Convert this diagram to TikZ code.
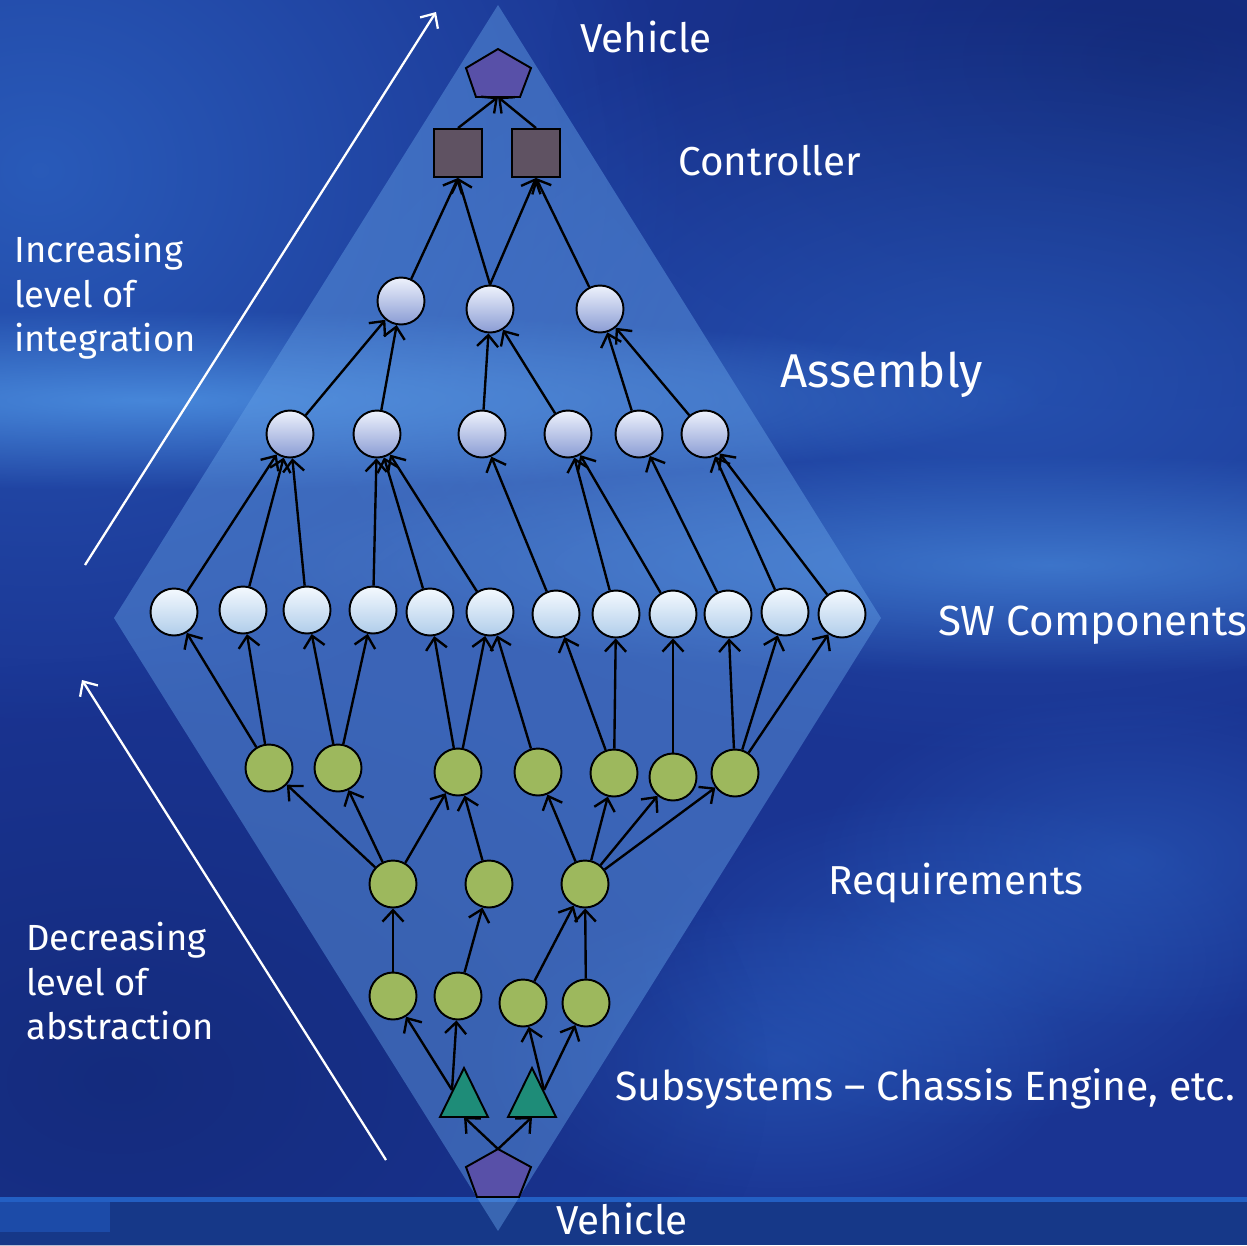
\documentclass[tikz,border=0pt]{standalone}
\usepackage{fontspec}
\setmainfont{Fira Sans}
\usetikzlibrary{arrows.meta,fadings}
\definecolor{bgbase}{RGB}{26,52,146}
\definecolor{bglight}{RGB}{80,150,230}
\definecolor{bgmid}{RGB}{45,100,195}
\definecolor{bgdark}{RGB}{15,35,105}
\definecolor{bgbottom}{RGB}{22,56,136}
\definecolor{bgline}{RGB}{35,95,195}
\definecolor{bgrect}{RGB}{28,75,168}
\definecolor{diafill}{RGB}{100,160,230}
\definecolor{asmtop}{RGB}{238,242,252}
\definecolor{asmbot}{RGB}{138,156,212}
\definecolor{swtop}{RGB}{244,249,254}
\definecolor{swbot}{RGB}{176,205,234}
\definecolor{reqgreen}{RGB}{157,184,93}
\definecolor{ctlcol}{RGB}{95,82,98}
\definecolor{pentcol}{RGB}{88,80,168}
\definecolor{tricol}{RGB}{30,140,120}
\tikzfading[name=softglow, inner color=transparent!0, outer color=transparent!100]
\begin{document}
\begin{tikzpicture}[x=0.02cm,y=-0.02cm,
  conn/.style={line width=1.35pt,-{Straight Barb[length=6.5pt,width=12pt]}},
  warrow/.style={white,line width=1.3pt,-{Straight Barb[length=6.5pt,width=12pt]}},
  cnode/.style={circle,draw=black,line width=1.1pt,minimum size=0.94cm,inner sep=0pt},
  asm/.style={cnode,top color=asmtop,bottom color=asmbot},
  swc/.style={cnode,top color=swtop,bottom color=swbot},
  req/.style={cnode,fill=reqgreen},
  ctl/.style={rectangle,draw=black,line width=1.1pt,fill=ctlcol,minimum size=0.96cm,inner sep=0pt},
  shp/.style={draw=black,line width=1.1pt},
  glow/.style={path fading=softglow},
  lbl/.style={text=white,anchor=base west,inner sep=0pt,font=\fontsize{23}{25}\selectfont},
  lside/.style={text=white,anchor=north west,inner sep=0pt,align=left,font=\fontsize{20.7}{25.2}\selectfont}]
\useasboundingbox (0,0) rectangle (1247,1245);
% background
\fill[bgbase] (0,0) rectangle (1247,1245);
\fill[bgmid,glow,opacity=0.8] (40,170) ellipse (650 and 560);
\fill[bgdark,glow,opacity=0.6] (1150,60) ellipse (600 and 350);
\fill[bgmid,glow,opacity=0.6] (1000,380) ellipse (700 and 380);
\fill[bglight,glow,opacity=0.8] (150,400) ellipse (900 and 90);
\fill[bglight,glow,opacity=0.6] (1050,565) ellipse (800 and 110);
\fill[bgmid,glow,opacity=0.5] (780,1060) ellipse (300 and 160);
\fill[bgmid,glow,opacity=0.5] (950,960) ellipse (320 and 170);
\fill[bgmid,glow,opacity=0.5] (1130,860) ellipse (320 and 170);
\fill[bgdark,glow,opacity=0.5] (120,1080) ellipse (650 and 420);
\fill[bgbottom] (0,1201) rectangle (1247,1245);
\fill[bgline] (0,1197) rectangle (1247,1202);
\fill[bgrect] (0,1202) rectangle (110,1232);
% diamond
\fill[diafill,opacity=0.45] (498,5) -- (881,618) -- (498,1231) -- (114,618) -- cycle;
% white arrows
\coordinate (wa1) at (85,565); \coordinate (wa2) at (436,12);
\coordinate (wb1) at (386,1160); \coordinate (wb2) at (82,680);
\draw[warrow] (wa1) -- (wa2);
\draw[warrow] (wb1) -- (wb2);
% top pentagon
\filldraw[shp,fill=pentcol] (498,49) -- (531,68) -- (520,97) -- (476,97) -- (466,68) -- cycle;
\coordinate (tpb) at (498,97);
% bottom pentagon
\filldraw[shp,fill=pentcol] (498,1149) -- (531,1167) -- (519,1197) -- (477,1197) -- (466,1167) -- cycle;
\coordinate (bpt) at (498,1149);
% triangles
\filldraw[shp,fill=tricol] (464,1068) -- (488,1117) -- (440,1117) -- cycle;
\filldraw[shp,fill=tricol] (532,1068) -- (556,1117) -- (508,1117) -- cycle;
\coordinate (t1l) at (452,1090); \coordinate (t1b) at (464,1117);
\coordinate (t2r) at (544,1090); \coordinate (t2b) at (532,1117);
% controllers
\node[ctl] (c1) at (458,153) {};
\node[ctl] (c2) at (536,153) {};
% assembly
\node[asm] (a1) at (401,301) {};
\node[asm] (a2) at (490,309) {};
\node[asm] (a3) at (600,309) {};
\node[asm] (b1) at (290,434) {};
\node[asm] (b2) at (377,434) {};
\node[asm] (b3) at (482,434) {};
\node[asm] (b4) at (568,434) {};
\node[asm] (b5) at (639,434) {};
\node[asm] (b6) at (705,434) {};
% sw components
\node[swc] (s1) at (174,612) {};
\node[swc] (s2) at (243,610) {};
\node[swc] (s3) at (307,610) {};
\node[swc] (s4) at (373,610) {};
\node[swc] (s5) at (430,612) {};
\node[swc] (s6) at (490,612) {};
\node[swc] (s7) at (556,614) {};
\node[swc] (s8) at (616,614) {};
\node[swc] (s9) at (673,614) {};
\node[swc] (s10) at (728,614) {};
\node[swc] (s11) at (785,612) {};
\node[swc] (s12) at (842,614) {};
% requirements
\node[req] (r1) at (269,768) {};
\node[req] (r2) at (338,768) {};
\node[req] (r3) at (458,772) {};
\node[req] (r4) at (538,772) {};
\node[req] (r5) at (614,773) {};
\node[req] (r6) at (673,777) {};
\node[req] (r7) at (735,773) {};
\node[req] (q1) at (393,884) {};
\node[req] (q2) at (489,884) {};
\node[req] (q3) at (585,884) {};
\node[req] (p1) at (393,996) {};
\node[req] (p2) at (458,996) {};
\node[req] (p3) at (523,1003) {};
\node[req] (p4) at (586,1003) {};
% connectors
\draw[conn] (c1.north) -- (tpb);
\draw[conn] (c2.north) -- (tpb);
\draw[conn] (a1) -- (c1.south);
\draw[conn] (a2.north) -- (c1.south);
\draw[conn] (a2.north) -- (c2.south);
\draw[conn] (a3) -- (c2.south);
\draw[conn] (b1) -- (a1);
\draw[conn] (b2) -- (a1);
\draw[conn] (b3) -- (a2);
\draw[conn] (b4) -- (a2);
\draw[conn] (b5) -- (a3);
\draw[conn] (b6) -- (a3);
\draw[conn] (s1) -- (b1);
\draw[conn] (s2) -- (b1);
\draw[conn] (s3) -- (b1);
\draw[conn] (s4) -- (b2);
\draw[conn] (s5) -- (b2);
\draw[conn] (s6) -- (b2);
\draw[conn] (s7) -- (b3);
\draw[conn] (s8) -- (b4);
\draw[conn] (s9) -- (b4);
\draw[conn] (s10) -- (b5);
\draw[conn] (s11) -- (b6);
\draw[conn] (s12) -- (b6);
\draw[conn] (r1) -- (s1);
\draw[conn] (r1) -- (s2);
\draw[conn] (r2) -- (s3);
\draw[conn] (r2) -- (s4);
\draw[conn] (r3) -- (s5);
\draw[conn] (r3) -- (s6);
\draw[conn] (r4) -- (s6);
\draw[conn] (r5) -- (s7);
\draw[conn] (r5) -- (s8);
\draw[conn] (r6) -- (s9);
\draw[conn] (r7) -- (s10);
\draw[conn] (r7) -- (s11);
\draw[conn] (r7) -- (s12);
\draw[conn] (q1) -- (r1);
\draw[conn] (q1) -- (r2);
\draw[conn] (q1) -- (r3);
\draw[conn] (q2) -- (r3);
\draw[conn] (q3) -- (r4);
\draw[conn] (q3) -- (r5);
\draw[conn] (q3) -- (r6);
\draw[conn] (q3) -- (r7);
\draw[conn] (p1) -- (q1);
\draw[conn] (p2) -- (q2);
\draw[conn] (p3) -- (q3);
\draw[conn] (p4) -- (q3);
\draw[conn] (t1l) -- (p1);
\draw[conn] (t1l) -- (p2);
\draw[conn] (t2r) -- (p3);
\draw[conn] (t2r) -- (p4);
\draw[conn] (bpt) -- (t1b);
\draw[conn] (bpt) -- (t2b);
% labels
\node[lbl] (lveh) at (580,52) {Vehicle};
\node[lbl] (lctl) at (678,175) {Controller};
\node[lbl,font=\fontsize{27}{29}\selectfont] (lasm) at (780,387) {Assembly};
\node[lbl,font=\fontsize{24}{26}\selectfont] (lsw) at (938,635) {SW Components};
\node[lbl] (lreq) at (828,894) {Requirements};
\node[lbl,font=\fontsize{23.3}{25}\selectfont] (lsub) at (615,1100) {Subsystems – Chassis Engine, etc.};
\node[lbl] (lveh2) at (556,1234) {Vehicle};
\node[lside] (linc) at (14,234) {Increasing\\level of\\integration};
\node[lside] (ldec) at (26,922) {Decreasing\\level of\\abstraction};
\end{tikzpicture}
\end{document}
